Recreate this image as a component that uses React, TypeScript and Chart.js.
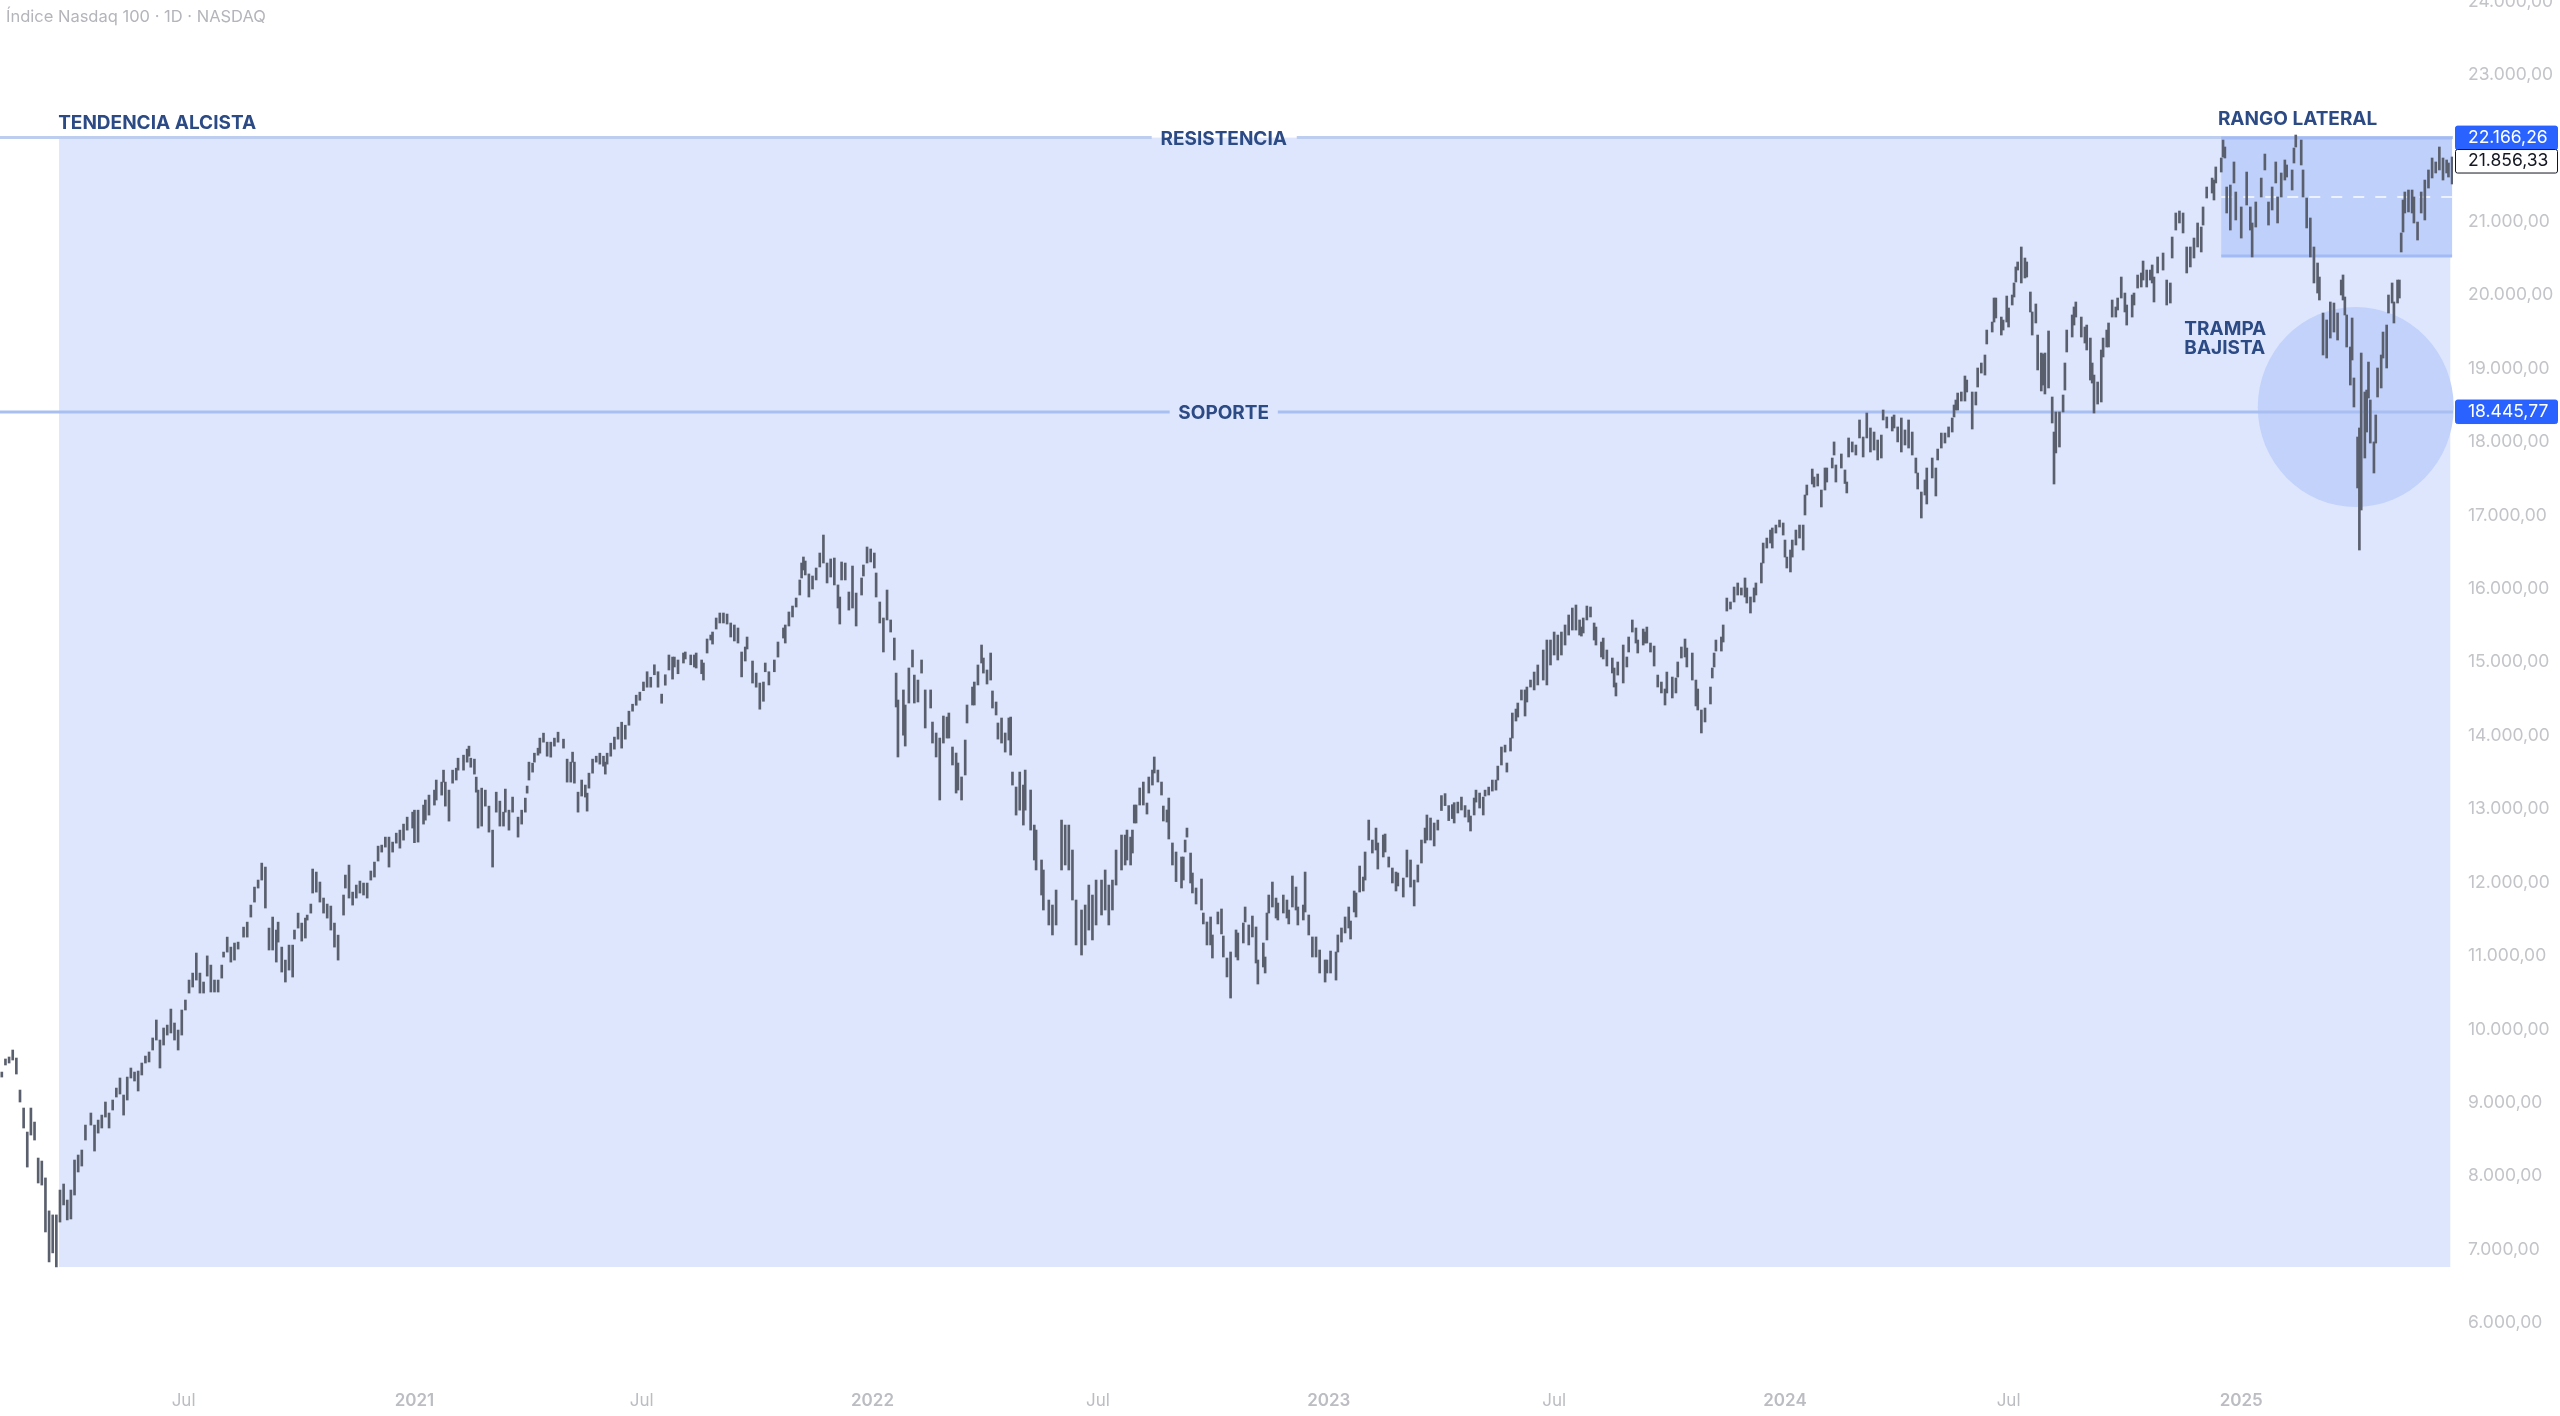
import React, { useEffect, useRef } from "react";
import { Chart, registerables } from "chart.js";

Chart.register(...registerables);

// Each bar: [session number, low, high] (about every other session)
const bars2020: [number, number, number][] = [
[1,9350,9418],[3,9514,9596],[5,9541,9623],[7,9582,9718],[9,9391,9609],[11,9010,9173],[13,8656,8928],[15,8124,8601],[17,8560,8928],[19,8492,8737],
[21,7907,8247],[23,7879,8206],[25,7240,7976],[27,6832,7527],[29,6955,7472],[31,6764,7472],[33,7375,7811],[35,7608,7893],[37,7404,7675],[39,7417,7811],
[41,7743,8220],[43,8057,8288],[45,8138,8356],[47,8492,8696],[50,8696,8860],[52,8342,8696],[54,8587,8764],[56,8656,8832],[58,8805,9010],[60,8656,8860],
[62,8901,9037],[64,9078,9200],[66,9119,9337],[68,8832,9105],[70,9037,9350],[72,9337,9473],[74,9296,9418],[76,9160,9432],[78,9378,9541],[80,9541,9636],
[82,9555,9691],[84,9718,9882],[86,9854,10127],[88,9473,9854],[90,9786,10018],[92,9922,10058],[94,9950,10276],[96,9854,10086],[98,9718,9990],[100,9922,10263],
[102,10263,10399],[104,10494,10671],[106,10576,10766],[108,10671,11039],[110,10494,10766],[112,10494,10644],[114,10725,11000],[116,10508,10875],[118,10508,10671],[120,10508,10671],
[122,10698,10875],[123,10984,11052],[125,11052,11256],[127,10916,11120],[129,10943,11175],[131,11093,11188],[134,11256,11392],[136,11256,11460],[138,11529,11692],[140,11733,11937],
[142,11924,12033],[144,12033,12264],[146,11652,12210],[148,11080,11379],[150,11080,11529],[152,10916,11352],[153,11188,11460],[155,10780,11120],[157,10644,10943],[159,10807,11147],
[161,10712,11147],[162,11230,11352],[164,11379,11583],[166,11202,11447],[168,11243,11515],[169,11488,11556],[171,11583,11706],[172,11856,12183],[174,11869,12142],[176,11733,12006],
[178,11583,11788],[180,11515,11706],[182,11352,11679],[184,11120,11447],[186,10943,11283],[189,11556,11829],[190,11924,12101],[192,11788,12237],[194,11692,11869],[196,11788,11965],
[198,11856,12019],[200,11829,11992],[202,11788,11992],[204,12033,12156],[206,12074,12278],[208,12292,12495],[210,12414,12509],[212,12482,12618],[214,12210,12618],[216,12414,12550],
[218,12536,12672],[220,12468,12713],[222,12577,12795],[224,12713,12890],[227,12741,12958],
];

const bars2021: [number, number, number][] = [
[228,12542,12985],[230,12550,12985],[233,12795,13054],[234,12849,13123],[236,12918,13190],[239,13054,13258],[240,13123,13395],[243,13190,13367],[244,13367,13530],[245,13040,13367],
[247,12836,13258],[249,13353,13530],[251,13395,13557],[252,13530,13693],[255,13530,13734],[257,13639,13816],[258,13720,13857],[259,13570,13693],[261,13476,13680],[262,13230,13435],
[263,12741,13258],[265,12768,13285],[267,13040,13258],[269,12686,13040],[271,12210,12713],[273,12958,13230],[275,12768,13108],[277,12768,12958],[278,12958,13272],[280,12713,12985],
[282,12958,13163],[285,12618,12890],[287,12795,12985],[289,12958,13149],[290,13217,13313],[291,13395,13639],[293,13503,13625],[294,13639,13761],[296,13734,13829],[297,13761,13966],
[299,13911,14034],[301,13720,13911],[303,13707,13911],[305,13857,13966],[307,13911,14047],[310,13830,13952],[312,13367,13680],[314,13367,13639],[315,13639,13775],[316,13353,13639],
[318,12958,13230],[320,13177,13395],[322,13163,13327],[323,12972,13217],[324,13285,13489],[326,13489,13680],[328,13639,13720],[330,13612,13761],[332,13584,13720],[333,13476,13639],
[334,13612,13761],[336,13720,13897],[338,13816,13980],[340,13952,14115],[342,13830,14183],[344,13952,14142],[346,14142,14333],[348,14333,14428],[350,14414,14551],[352,14482,14592],
[354,14612,14730],[356,14660,14870],[358,14660,14795],[360,14829,14965],[362,14660,14870],[364,14441,14565],[366,14687,14829],[368,14894,15098],[370,14770,15070],[371,14935,15070],
[373,14843,15030],[376,14989,15125],[377,15044,15139],[380,14965,15098],[382,14935,15098],[383,14921,15125],[386,14843,15030],[387,14757,14989],[389,15125,15316],[391,15302,15370],
[392,15247,15411],[394,15452,15602],[396,15534,15670],[398,15534,15670],[400,15520,15656],[402,15343,15534],[404,15289,15507],[406,15261,15466],[408,14800,15139],[410,15016,15207],
[411,15180,15343],[414,14716,15016],[416,14660,14852],[418,14360,14716],[420,14468,14730],[421,14870,14989],[423,14690,14870],[426,14870,15030],[428,15070,15275],[431,15329,15466],
[432,15261,15507],[434,15493,15684],[436,15616,15765],[438,15752,15874],[440,15915,16120],[441,16147,16351],[442,16256,16433],[443,16188,16378],[445,15888,16202],[447,15997,16174],
[449,16120,16283],[451,16297,16487],[453,16351,16732],[455,16079,16351],[457,16160,16406],[459,16052,16419],[461,15738,16052],[462,15520,15888],[463,16120,16365],[465,16120,16351],
[467,15710,15956],[469,15738,16310],[471,15493,15942],[474,15915,16147],[475,16174,16324],[477,16351,16569],[479,16365,16542],
];

const bars2022: [number, number, number][] = [
[481,16283,16487],[482,15888,16215],[484,15534,15820],[486,15139,15602],[488,15575,15983],[490,15411,15575],[492,15030,15329],[493,14390,14852],[494,13709,14485],[497,14006,14622],
[498,13858,14417],[500,14444,14921],[502,14935,15166],[503,14444,14825],[505,14458,14757],[507,14852,15030],[509,14104,14622],[512,14376,14622],[513,13899,14185],[515,13709,14036],
[517,13123,13967],[519,13899,14267],[521,13967,14253],[522,13967,14308],[524,13600,13845],[526,13218,13763],[527,13259,13627],[529,13123,13437],[531,13464,13940],[532,14172,14417],
[535,14417,14662],[536,14417,14730],[538,14690,14962],[540,14989,15234],[541,14852,15057],[543,14703,14894],[545,14757,15125],[546,14376,14608],[548,14281,14458],[549,13953,14172],
[551,13899,14240],[553,13776,14036],[555,13940,14240],[556,13735,14253],[557,13327,13504],[559,12918,13300],[561,12985,13504],[563,12782,13327],[564,12985,13531],[567,12714,13259],
[569,12306,12782],[570,12170,12714],[573,11829,12306],[574,11625,12170],[577,11421,11761],[579,11285,11693],[581,11421,11897],[584,12170,12850],[586,12238,12782],[588,12170,12782],
[590,11761,12442],[592,11149,11761],[595,11012,11625],[597,11149,11693],[599,11352,11965],[601,11217,11829],[603,11421,12033],[606,11557,12033],[608,11625,12170],[610,11421,11965],
[612,11625,12033],[614,11965,12442],[617,12170,12646],[619,12238,12646],[620,12306,12714],[622,12238,12618],[623,12401,12714],[624,12810,13055],[625,12810,13055],[627,13055,13287],
[629,13055,13368],[631,12932,13082],[632,13218,13436],[634,13327,13531],[635,13491,13709],[637,13368,13531],[639,13191,13368],[640,12837,13041],[642,12823,12987],[643,12592,13150],
[645,12238,12538],[647,12012,12415],[650,11925,12347],[651,12033,12347],[652,12415,12578],[653,12618,12741],[655,11993,12401],[656,11857,12129],[658,11707,11925],[661,11625,12047],
[662,11435,11584],[664,11149,11462],[666,11149,11530],[667,10971,11285],[670,11435,11598],[672,11299,11639],[673,10985,11271],[675,10713,10971],[677,10426,11053],[680,10985,11353],
[681,10944,11312],[684,11176,11448],[685,11462,11666],[687,11149,11421],[689,11258,11543],[691,10903,11394],[692,10617,10944],[695,10849,11176],[696,10767,10985],[697,11217,11584],
[698,11584,11829],[700,11666,12006],[702,11516,11788],[703,11489,11720],[706,11584,11829],[708,11516,11761],[709,11435,11625],[711,11666,12088],[713,11625,11938],[714,11421,11666],
[717,11489,11693],[718,11598,12142],[720,11285,11557],[722,10985,11258],[724,10985,11258],[726,10767,11080],[729,10644,10944],
];

const bars2023: [number, number, number][] = [
[730,10767,10944],[732,10767,11066],[735,10671,11053],[736,11053,11285],[738,11189,11380],[740,11312,11530],[742,11380,11666],[743,11230,11475],[745,11598,11884],[746,11530,11857],
[748,11870,12224],[750,11884,12074],[751,12033,12415],[753,12578,12850],[755,12401,12578],[757,12442,12741],[758,12183,12538],[761,12347,12646],[762,12415,12660],[764,12210,12347],
[766,11993,12197],[768,11884,12142],[769,11952,12129],[772,11802,12060],[774,12074,12442],[776,11938,12306],[778,11680,12033],[780,12006,12238],[782,12265,12578],[784,12538,12741],
[785,12578,12919],[787,12578,12878],[789,12497,12810],[791,12714,12850],[793,12980,13183],[795,13047,13210],[797,12843,13047],[799,12870,13060],[800,12810,13087],[802,12946,13095],
[804,12987,13163],[806,12891,13047],[808,12823,12987],[809,12701,12905],[811,12919,13150],[812,13095,13258],[814,13014,13218],[816,12919,13163],[817,13177,13258],[819,13191,13299],
[821,13245,13395],[823,13258,13395],[824,13395,13585],[826,13600,13845],[828,13776,13871],[829,13504,13627],[831,13790,13967],[832,13967,14308],[834,14199,14362],[835,14253,14444],
[837,14485,14622],[839,14267,14622],[840,14458,14662],[842,14662,14757],[844,14622,14866],[846,14690,14962],[849,14757,15166],[851,14690,15302],[853,14962,15302],[855,15098,15411],
[857,15030,15370],[859,15098,15411],[861,15234,15507],[863,15370,15643],[865,15438,15738],[867,15438,15779],[869,15370,15575],[870,15356,15479],[871,15398,15602],[873,15575,15765],
[875,15616,15752],[877,15302,15534],[878,15234,15479],[881,15071,15275],[882,15044,15329],[884,14948,15166],[887,14853,15057],[888,14662,14921],[889,14540,14717],[890,14825,15003],
[893,14717,15234],[895,14935,15071],[896,15139,15343],[898,15411,15575],[900,15261,15466],[901,15125,15302],[904,15234,15452],[905,15261,15411],[906,15261,15479],[908,15139,15261],
[910,14948,15220],[912,14662,14825],[914,14581,14730],[916,14417,14635],[917,14581,14866],[920,14513,14798],[922,14581,14785],[923,14798,15003],[925,15057,15207],[927,15071,15316],
[928,14935,15193],[931,14757,15125],[933,14404,14757],[934,14349,14635],[936,14036,14349],[938,14186,14376],[941,14431,14662],[942,14785,14921],[943,14935,15125],[944,15152,15302],
[947,15152,15343],[948,15275,15507],[950,15697,15874],[952,15724,15820],[954,15820,16024],[956,15915,16079],[958,15915,16011],[960,15888,16147],[961,15806,16011],[963,15670,15888],
[965,15820,16011],[966,15915,16079],[969,16079,16351],[970,16351,16623],[972,16555,16691],[974,16623,16800],[975,16555,16828],[977,16759,16868],[979,16841,16936],[981,16732,16896],
];

const bars2024: [number, number, number][] = [
[982,16432,16664],[983,16283,16432],[985,16229,16528],[986,16432,16664],[988,16596,16800],[990,16691,16868],[992,16528,16868],[993,17005,17277],[994,17277,17413],[997,17427,17631],
[998,17386,17522],[1000,17400,17563],[1002,17114,17345],[1004,17345,17645],[1005,17454,17645],[1008,17645,17781],[1009,17822,18000],[1010,17454,17686],[1013,17645,17836],[1015,17434,17618],
[1016,17305,17454],[1017,17795,18054],[1019,17863,18000],[1021,17822,17958],[1023,18054,18299],[1025,17795,18067],[1027,18054,18394],[1029,17863,18190],[1031,17890,18135],[1033,17754,18026],
[1035,17781,18094],[1036,18299,18435],[1038,18190,18340],[1041,18149,18340],[1042,18190,18367],[1044,18000,18204],[1046,17863,18326],[1048,17958,18163],[1050,17917,18299],[1052,17822,18135],
[1054,17577,17781],[1055,17359,17577],[1057,16964,17318],[1059,17277,17482],[1060,17155,17645],[1063,17509,17781],[1065,17264,17645],[1066,17754,17903],[1068,17917,18121],[1070,17985,18121],
[1072,18067,18204],[1074,18135,18326],[1075,18340,18503],[1076,18435,18571],[1077,18435,18666],[1079,18557,18680],[1081,18557,18898],[1082,18680,18843],[1085,18176,18680],[1087,18503,18680],
[1088,18748,19007],[1090,18938,19075],[1092,18911,19184],[1093,19334,19524],[1096,19497,19633],[1097,19633,19960],[1098,19688,19960],[1101,19456,19701],[1102,19524,19660],[1104,19633,19987],
[1105,19565,19824],[1107,19865,20001],[1108,19974,20165],[1109,20178,20383],[1110,20341,20451],[1112,20165,20655],[1114,20233,20505],[1115,20246,20451],[1117,19770,20042],[1118,19456,19770],
[1120,19620,19879],[1121,18980,19456],[1123,18694,19211],[1124,18775,19197],[1125,18653,19211],[1127,18735,19511],[1129,18258,18612],[1130,17427,18135],[1131,17850,18408],[1133,17931,18408],
[1135,18408,18639],[1136,18707,19075],[1137,19225,19524],[1140,19429,19729],[1141,19592,19838],[1142,19701,19906],[1145,19429,19701],[1147,19347,19565],[1148,19252,19592],[1150,18843,19415],
[1151,18802,19075],[1152,18394,18911],[1154,18516,18816],[1156,18544,19252],[1157,19157,19415],[1159,19293,19524],[1160,19293,19620],[1162,19701,19933],[1164,19701,19838],[1165,19797,19960],
[1167,19960,20246],[1169,19770,20028],[1170,19592,19865],[1173,19701,20001],[1174,19865,20028],[1176,20096,20273],[1178,20110,20301],[1179,20205,20464],[1181,20110,20341],[1183,20205,20341],
[1184,20165,20410],[1185,19906,20246],[1187,20301,20519],[1190,20341,20573],[1192,19865,20205],[1194,19892,20165],[1195,20505,20791],[1197,20886,21118],[1199,20982,21145],[1201,20846,21118],
[1203,20301,20655],[1205,20383,20655],[1207,20505,20777],[1209,20655,20982],[1211,20587,20927],[1212,20954,21200],[1214,21322,21472],[1217,21390,21594],[1218,21295,21567],[1219,21527,21745],
[1222,21676,21867],[1223,21881,22112],[1224,21867,22017],[1225,21118,21472],[1227,20886,21499],[1229,21527,21813],[1230,21023,21404],
];

const bars2025: [number, number, number][] = [
[1233,20777,21200],[1236,21227,21676],[1238,20886,21200],[1239,20519,20982],[1241,20927,21268],[1244,21336,21594],[1246,21704,21921],[1248,20954,21268],[1250,21159,21472],[1252,21527,21813],
[1253,20982,21336],[1255,21336,21663],[1257,21567,21840],[1258,21608,21772],[1261,21431,21704],[1262,21799,22003],[1263,22017,22180],[1266,21772,22112],[1267,21336,21704],[1269,20914,21322],
[1271,20519,21050],[1273,20165,20655],[1275,20028,20437],[1276,19933,20246],[1278,19184,19756],[1280,19143,19661],[1282,19415,19906],[1284,19497,19892],[1286,19388,19756],[1288,20001,20205],
[1289,19933,20274],[1290,19729,19974],[1291,19293,19729],[1293,18775,19293],[1294,19116,19688],[1295,18476,18871],[1297,17373,18067],[1298,16528,18190],[1299,17073,19211],[1301,17781,18680],
[1302,18135,18707],[1303,18598,19088],[1304,17985,18571],[1306,17577,18000],[1307,17985,18367],[1308,18612,19007],[1310,18735,19184],[1311,19143,19497],[1313,19007,19592],[1314,19756,20001],
[1316,19892,20165],[1317,19620,19906],[1319,19892,20205],[1320,19960,20205],[1321,20587,20846],[1322,20859,21295],[1323,21118,21404],[1325,21132,21431],[1327,21118,21431],[1328,20982,21336],
[1330,20750,20995],[1332,21118,21404],[1334,21023,21567],[1336,21458,21704],[1338,21595,21867],[1340,21663,21813],[1342,21704,22017],[1344,21567,21867],[1346,21663,21840],[1347,21608,21799],[1349,21513,21881],
];

const allBars = [...bars2020, ...bars2021, ...bars2022, ...bars2023, ...bars2024, ...bars2025];

// Axis
const timeTickSessions = [101, 228, 353, 480, 604, 731, 855, 982, 1105, 1233];
const timeTickLabels = ["Jul", "2021", "Jul", "2022", "Jul", "2023", "Jul", "2024", "Jul", "2025"];
const priceTicks = [6000, 7000, 8000, 9000, 10000, 11000, 12000, 13000, 14000, 15000, 16000, 17000, 18000, 19000, 20000, 21000, 22000, 23000, 24000];
const sessionMax = 1349.5;
const priceMin = 5292;
const priceMax = 24019;

// Annotations (sessions / index points)
const resistanceLevel = 22145;
const supportLevel = 18408;
const trendZone = { from: 32.5, to: 1348, top: 22145, bottom: 6763 };
const rangeZone = { from: 1222, to: 1349, top: 22140, bottom: 20532, mid: 21336 };
const trapCircle = { at: 1296, level: 18476, rx: 53.9, ry: 1362 };
const resistanceGap = [633.6, 713.4];
const supportGap = [643.5, 703];
const notes = [
  { text: "TENDENCIA ALCISTA", at: 32, level: 22344, align: "left" },
  { text: "RANGO LATERAL", at: 1264, level: 22398, align: "center" },
  { text: "RESISTENCIA", at: 673.2, level: 22126, align: "center" },
  { text: "SOPORTE", at: 673.2, level: 18394, align: "center" },
  { text: "TRAMPA", at: 1201.7, level: 19538, align: "left" },
  { text: "BAJISTA", at: 1201.7, level: 19279, align: "left" },
];
const priceTags = [
  { text: "22.166,26", level: 22145, fill: "#2962ff", ink: "#ffffff", border: "#2962ff" },
  { text: "21.856,33", level: 21826, fill: "#ffffff", ink: "#131722", border: "#131722" },
  { text: "18.445,77", level: 18414, fill: "#2962ff", ink: "#ffffff", border: "#2962ff" },
];
const chartTitle = "Índice Nasdaq 100 · 1D · NASDAQ";

const FONT = "Inter, 'Noto Sans', sans-serif";

const formatPrice = (v: number) => {
  const s = Math.round(v).toString();
  return s.replace(/\B(?=(\d{3})+(?!\d))/g, ".") + ",00";
};

const backdrop = {
  id: "backdrop",
  beforeDatasetsDraw(chart: any) {
    const { ctx, scales } = chart;
    const X = scales.x, Y = scales.y;
    ctx.save();
    ctx.fillStyle = "#dde6fd";
    ctx.fillRect(X.getPixelForValue(trendZone.from), Y.getPixelForValue(trendZone.top),
      X.getPixelForValue(trendZone.to) - X.getPixelForValue(trendZone.from),
      Y.getPixelForValue(trendZone.bottom) - Y.getPixelForValue(trendZone.top));

    const rx0 = X.getPixelForValue(rangeZone.from), rx1 = X.getPixelForValue(rangeZone.to);
    const ry0 = Y.getPixelForValue(rangeZone.top), ry1 = Y.getPixelForValue(rangeZone.bottom);
    ctx.fillStyle = "#bfd0fa";
    ctx.fillRect(rx0, ry0, rx1 - rx0, ry1 - ry0);

    ctx.fillStyle = "#c2d2fb";
    ctx.beginPath();
    ctx.ellipse(X.getPixelForValue(trapCircle.at), Y.getPixelForValue(trapCircle.level),
      X.getPixelForValue(trapCircle.at + trapCircle.rx) - X.getPixelForValue(trapCircle.at),
      Y.getPixelForValue(trapCircle.level - trapCircle.ry) - Y.getPixelForValue(trapCircle.level),
      0, 0, Math.PI * 2);
    ctx.fill();

    // resistance and support lines, broken round their captions
    const hLine = (level: number, gap: number[], color: string, w: number) => {
      const y = Y.getPixelForValue(level);
      ctx.strokeStyle = color;
      ctx.lineWidth = w;
      ctx.beginPath();
      ctx.moveTo(X.left, y);
      ctx.lineTo(X.getPixelForValue(gap[0]), y);
      ctx.moveTo(X.getPixelForValue(gap[1]), y);
      ctx.lineTo(X.right, y);
      ctx.stroke();
    };
    hLine(resistanceLevel, resistanceGap, "#bccdf0", 3);
    hLine(supportLevel, supportGap, "#a9bff2", 3);

    // range zone edges
    ctx.strokeStyle = "#a3bbf5";
    ctx.lineWidth = 3;
    ctx.beginPath();
    ctx.moveTo(rx0, ry0); ctx.lineTo(rx1, ry0);
    ctx.moveTo(rx0, ry1); ctx.lineTo(rx1, ry1);
    ctx.stroke();

    ctx.strokeStyle = "rgba(255,255,255,0.7)";
    ctx.lineWidth = 2;
    ctx.setLineDash([11, 11]);
    const my = Y.getPixelForValue(rangeZone.mid);
    ctx.beginPath();
    ctx.moveTo(rx0, my); ctx.lineTo(rx1, my);
    ctx.stroke();
    ctx.restore();
  },
};

const overlay = {
  id: "overlay",
  afterDraw(chart: any) {
    const { ctx, scales } = chart;
    const X = scales.x, Y = scales.y;
    ctx.save();
    ctx.textBaseline = "middle";

    ctx.font = `400 16.5px ${FONT}`;
    ctx.fillStyle = "#b4b5ba";
    ctx.textAlign = "left";
    ctx.fillText(chartTitle, 6, 17);

    ctx.font = `700 19px ${FONT}`;
    ctx.fillStyle = "#2c4a84";
    for (const n of notes) {
      ctx.textAlign = n.align;
      ctx.fillText(n.text, X.getPixelForValue(n.at), Y.getPixelForValue(n.level));
    }

    ctx.font = `400 17.5px ${FONT}`;
    ctx.textAlign = "left";
    for (const t of priceTags) {
      const c = Y.getPixelForValue(t.level);
      ctx.beginPath();
      ctx.roundRect(X.right + 2.5, c - 11.5, 102, 23.5, 2);
      ctx.fillStyle = t.fill;
      ctx.fill();
      ctx.strokeStyle = t.border;
      ctx.lineWidth = 1;
      ctx.stroke();
      ctx.fillStyle = t.ink;
      ctx.fillText(t.text, X.right + 15, c);
    }
    ctx.restore();
  },
};

export default function App() {
  const ref = useRef<HTMLCanvasElement>(null);

  useEffect(() => {
    const chart = new Chart(ref.current!, {
      type: "bar",
      plugins: [backdrop, overlay],
      data: {
        datasets: [
          {
            label: "Índice Nasdaq 100",
            data: allBars.map(([x, low, high]) => ({ x, y: [low, high] })) as any,
            backgroundColor: "#5a5f6d",
            borderWidth: 0,
            barThickness: 2,
          },
        ],
      },
      options: {
        animation: false,
        responsive: false,
        devicePixelRatio: 1,
        layout: { padding: 0 },
        plugins: { legend: { display: false }, tooltip: { enabled: false }, title: { display: false } },
        scales: {
          x: {
            type: "linear",
            offset: false,
            min: 0,
            max: sessionMax,
            grid: { display: false, drawTicks: false },
            border: { display: false },
            afterBuildTicks: (s: any) => {
              s.ticks = timeTickSessions.map((value) => ({ value }));
            },
            afterFit: (s: any) => {
              s.height = 41;
              s.paddingLeft = 0;
              s.paddingRight = 0;
            },
            ticks: {
              autoSkip: false,
              maxRotation: 0,
              padding: 16,
              color: "#bcbdc2",
              font: (c: any) => {
                const label = timeTickLabels[timeTickSessions.indexOf(c.tick?.value)];
                return { family: FONT, size: 17, weight: label === "Jul" ? 400 : 600 };
              },
              callback: (v: any) => timeTickLabels[timeTickSessions.indexOf(Number(v))] ?? "",
            },
          },
          y: {
            type: "linear",
            position: "right",
            min: priceMin,
            max: priceMax,
            grid: { display: false, drawTicks: false },
            border: { display: false },
            afterBuildTicks: (s: any) => {
              s.ticks = priceTicks.map((value) => ({ value }));
            },
            afterFit: (s: any) => {
              s.width = 107;
              s.paddingTop = 0;
              s.paddingBottom = 0;
            },
            ticks: {
              autoSkip: false,
              padding: 15,
              color: "#c3c4c8",
              font: { family: FONT, size: 17.5, weight: 400 },
              callback: (v: any) => formatPrice(Number(v)),
            },
          },
        },
      },
    } as any);
    return () => chart.destroy();
  }, []);

  return (
    <div style={{ position: "fixed", left: 0, top: 0, width: 2560, height: 1416, background: "#fff" }}>
      <canvas ref={ref} width={2560} height={1416} style={{ display: "block", width: 2560, height: 1416 }} />
    </div>
  );
}
